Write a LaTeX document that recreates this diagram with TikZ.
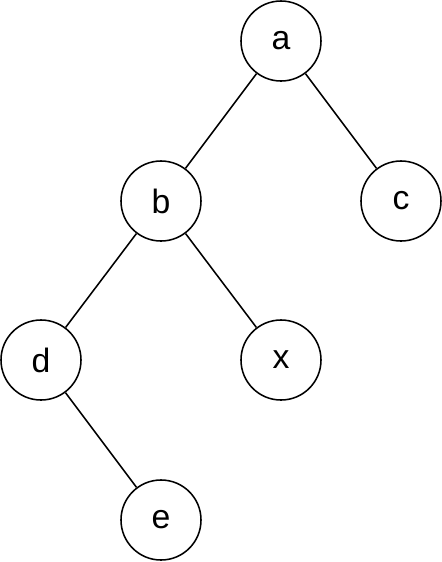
\documentclass[tikz,border=0pt]{standalone}
\usepackage{fontspec}
\setmainfont{Liberation Sans}
\begin{document}
\begin{tikzpicture}[x=0.025cm,y=-0.025cm]
% Styles
\tikzstyle{noeud}=[draw=black,circle,line width=1.1pt,minimum size=2cm,inner sep=0pt,font=\fontsize{24}{28}\selectfont]
\tikzstyle{arete}=[line width=1.1pt]
% Cadre
\useasboundingbox (0,0) rectangle (442,562);
% Noeuds
\node[noeud] (a) at (281,41) {a};
\node[noeud] (b) at (161,201) {b};
\node[noeud] (c) at (401,201) {c};
\node[noeud] (d) at (41,360) {d};
\node[noeud] (x) at (281,360) {x};
\node[noeud] (e) at (161,520) {e};
% Aretes
\draw[arete] (a) -- (b);
\draw[arete] (a) -- (c);
\draw[arete] (b) -- (d);
\draw[arete] (b) -- (x);
\draw[arete] (d) -- (e);
\end{tikzpicture}
\end{document}
